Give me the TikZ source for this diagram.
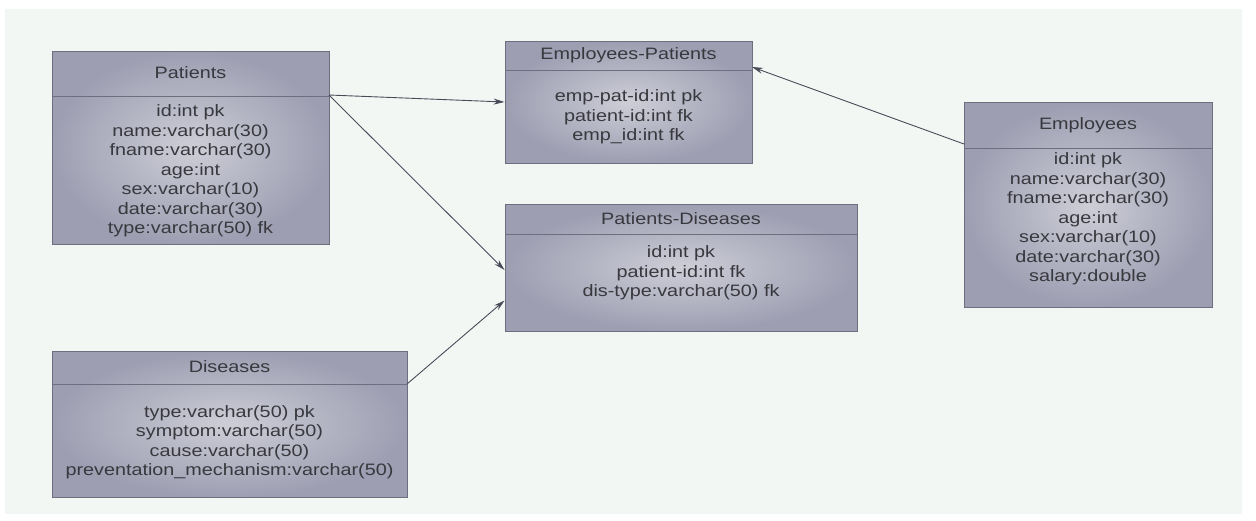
\documentclass[tikz,border=0pt]{standalone}
\usepackage{fontspec}
\setmainfont{Liberation Sans}[FakeStretch=1.2]
\usetikzlibrary{arrows.meta,calc}
\definecolor{bg}{HTML}{F3F7F3}
\definecolor{boxline}{HTML}{6E6F7E}
\definecolor{boxin}{HTML}{CDCED7}
\definecolor{boxout}{HTML}{9D9EB1}
\definecolor{txt}{HTML}{38383E}
\definecolor{conn}{HTML}{4A4B58}
\tikzset{
  tbl/.style={draw=boxline, line width=0.9pt, inner color=boxin, outer color=boxout, inner sep=0pt},
  divline/.style={draw=boxline, line width=0.9pt},
  ttl/.style={font=\fontsize{16.5}{19.5}\selectfont, text=txt, inner sep=0pt},
  body/.style={font=\fontsize{16.5}{19.5}\selectfont, text=txt, align=center, inner sep=0pt},
  rel/.style={draw=conn, line width=0.9pt, -{Stealth[length=11pt,width=6pt]}}
}
\begin{document}
\begin{tikzpicture}[x=1pt,y=-1pt]
\useasboundingbox (0,0) rectangle (1256,520);
\fill[white] (0,0) rectangle (1256,520);
\fill[bg] (5,9) rectangle (1242,514);

% Patients
\node[tbl, minimum width=277, minimum height=193] (pat) at (190.5,147.5) {};
\draw[divline] (52,96) coordinate (patL) -- (329,96) coordinate (patR);
\node[ttl] (patT) at (190.5,73) {Patients};
\node[body] (patB) at (190.5,171) {id:int pk\\name:varchar(30)\\fname:varchar(30)\\age:int\\sex:varchar(10)\\date:varchar(30)\\type:varchar(50) fk};

% Employees-Patients
\node[tbl, minimum width=247, minimum height=122] (ep) at (628.5,102) {};
\draw[divline] (505,70) coordinate (epL) -- (752,70) coordinate (epR);
\node[ttl] (epT) at (628.5,55) {Employees-Patients};
\node[body] (epB) at (628.5,117) {emp-pat-id:int pk\\patient-id:int fk\\emp\_id:int fk};

% Patients-Diseases
\node[tbl, minimum width=352, minimum height=127] (pd) at (681,267.5) {};
\draw[divline] (505,234) coordinate (pdL) -- (857,234) coordinate (pdR);
\node[ttl] (pdT) at (681,219) {Patients-Diseases};
\node[body] (pdB) at (681,273) {id:int pk\\patient-id:int fk\\dis-type:varchar(50) fk};

% Employees
\node[tbl, minimum width=248, minimum height=205] (emp) at (1088,204.5) {};
\draw[divline] (964,148) coordinate (empL) -- (1212,148) coordinate (empR);
\node[ttl] (empT) at (1088,125) {Employees};
\node[body] (empB) at (1088,219) {id:int pk\\name:varchar(30)\\fname:varchar(30)\\age:int\\sex:varchar(10)\\date:varchar(30)\\salary:double};

% Diseases
\node[tbl, minimum width=355, minimum height=146] (dis) at (229.5,424) {};
\draw[divline] (52,384) coordinate (disL) -- (407,384) coordinate (disR);
\node[ttl] (disT) at (229.5,367) {Diseases};
\node[body] (disB) at (229.5,442) {type:varchar(50) pk\\symptom:varchar(50)\\cause:varchar(50)\\preventation\_mechanism:varchar(50)};

% Relations
\draw[rel] ([yshift=1pt]patR) -- (ep.west);
\draw[rel] ([yshift=1pt]patR) -- ([yshift=-2.5pt]pd.west);
\draw[rel] (disR) -- ([yshift=-33pt]pd.west);
\draw[rel] ([yshift=4pt]empL) -- ([yshift=3pt]epR);
\end{tikzpicture}
\end{document}
